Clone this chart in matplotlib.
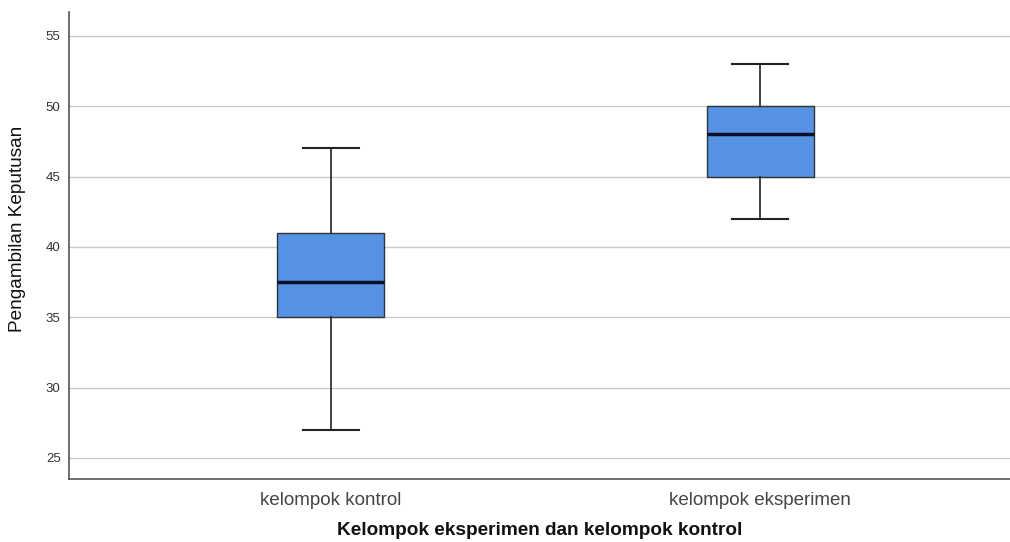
import matplotlib
matplotlib.use("Agg")
import matplotlib.pyplot as plt

plt.rcParams['font.family'] = ['Liberation Sans', 'DejaVu Sans']

# five-number summaries per group
groups = ['kelompok kontrol', 'kelompok eksperimen']
whisker_low = [27, 42]
q1 = [35, 45]
median = [37.5, 48]
q3 = [41, 50]
whisker_high = [47, 53]
yticks = [25, 30, 35, 40, 45, 50, 55]

stats = []
for i, name in enumerate(groups):
    stats.append({'label': name, 'whislo': whisker_low[i], 'q1': q1[i],
                  'med': median[i], 'q3': q3[i], 'whishi': whisker_high[i],
                  'fliers': []})

fig = plt.figure(figsize=(10.1, 5.42), dpi=100)
ax = fig.add_axes([0.0683, 0.1162, 0.9317, 0.8616])

ax.bxp(stats, positions=[1, 2], widths=0.25, patch_artist=True,
       boxprops=dict(facecolor='#5592e3', edgecolor='#333333', linewidth=1),
       medianprops=dict(color='#0a0f2a', linewidth=2.5),
       whiskerprops=dict(color='#222222', linewidth=1.2),
       capprops=dict(color='#222222', linewidth=1.5),
       capwidths=0.13, zorder=3)

ax.set_xlim(0.391, 2.581)
ax.set_ylim(23.5, 56.7)
ax.set_yticks(yticks)
ax.yaxis.grid(True, color='#c8c8c8', linewidth=1, zorder=0)
ax.set_axisbelow(True)
ax.tick_params(axis='both', length=0)
ax.tick_params(axis='y', labelsize=9.5, colors='#333333', pad=6)
ax.tick_params(axis='x', labelsize=13.5, colors='#444444', pad=9)

for side in ['top', 'right']:
    ax.spines[side].set_visible(False)
for side in ['left', 'bottom']:
    ax.spines[side].set_color('#555555')
    ax.spines[side].set_linewidth(1.2)

ax.set_xlabel('Kelompok eksperimen dan kelompok kontrol', fontsize=13.7,
              fontweight='bold', color='#111111', labelpad=10)
ax.set_ylabel('Pengambilan Keputusan', fontsize=13.7, color='#111111')
ax.yaxis.set_label_coords(-0.046, 0.535)

fig.savefig('out.png', dpi=100)
